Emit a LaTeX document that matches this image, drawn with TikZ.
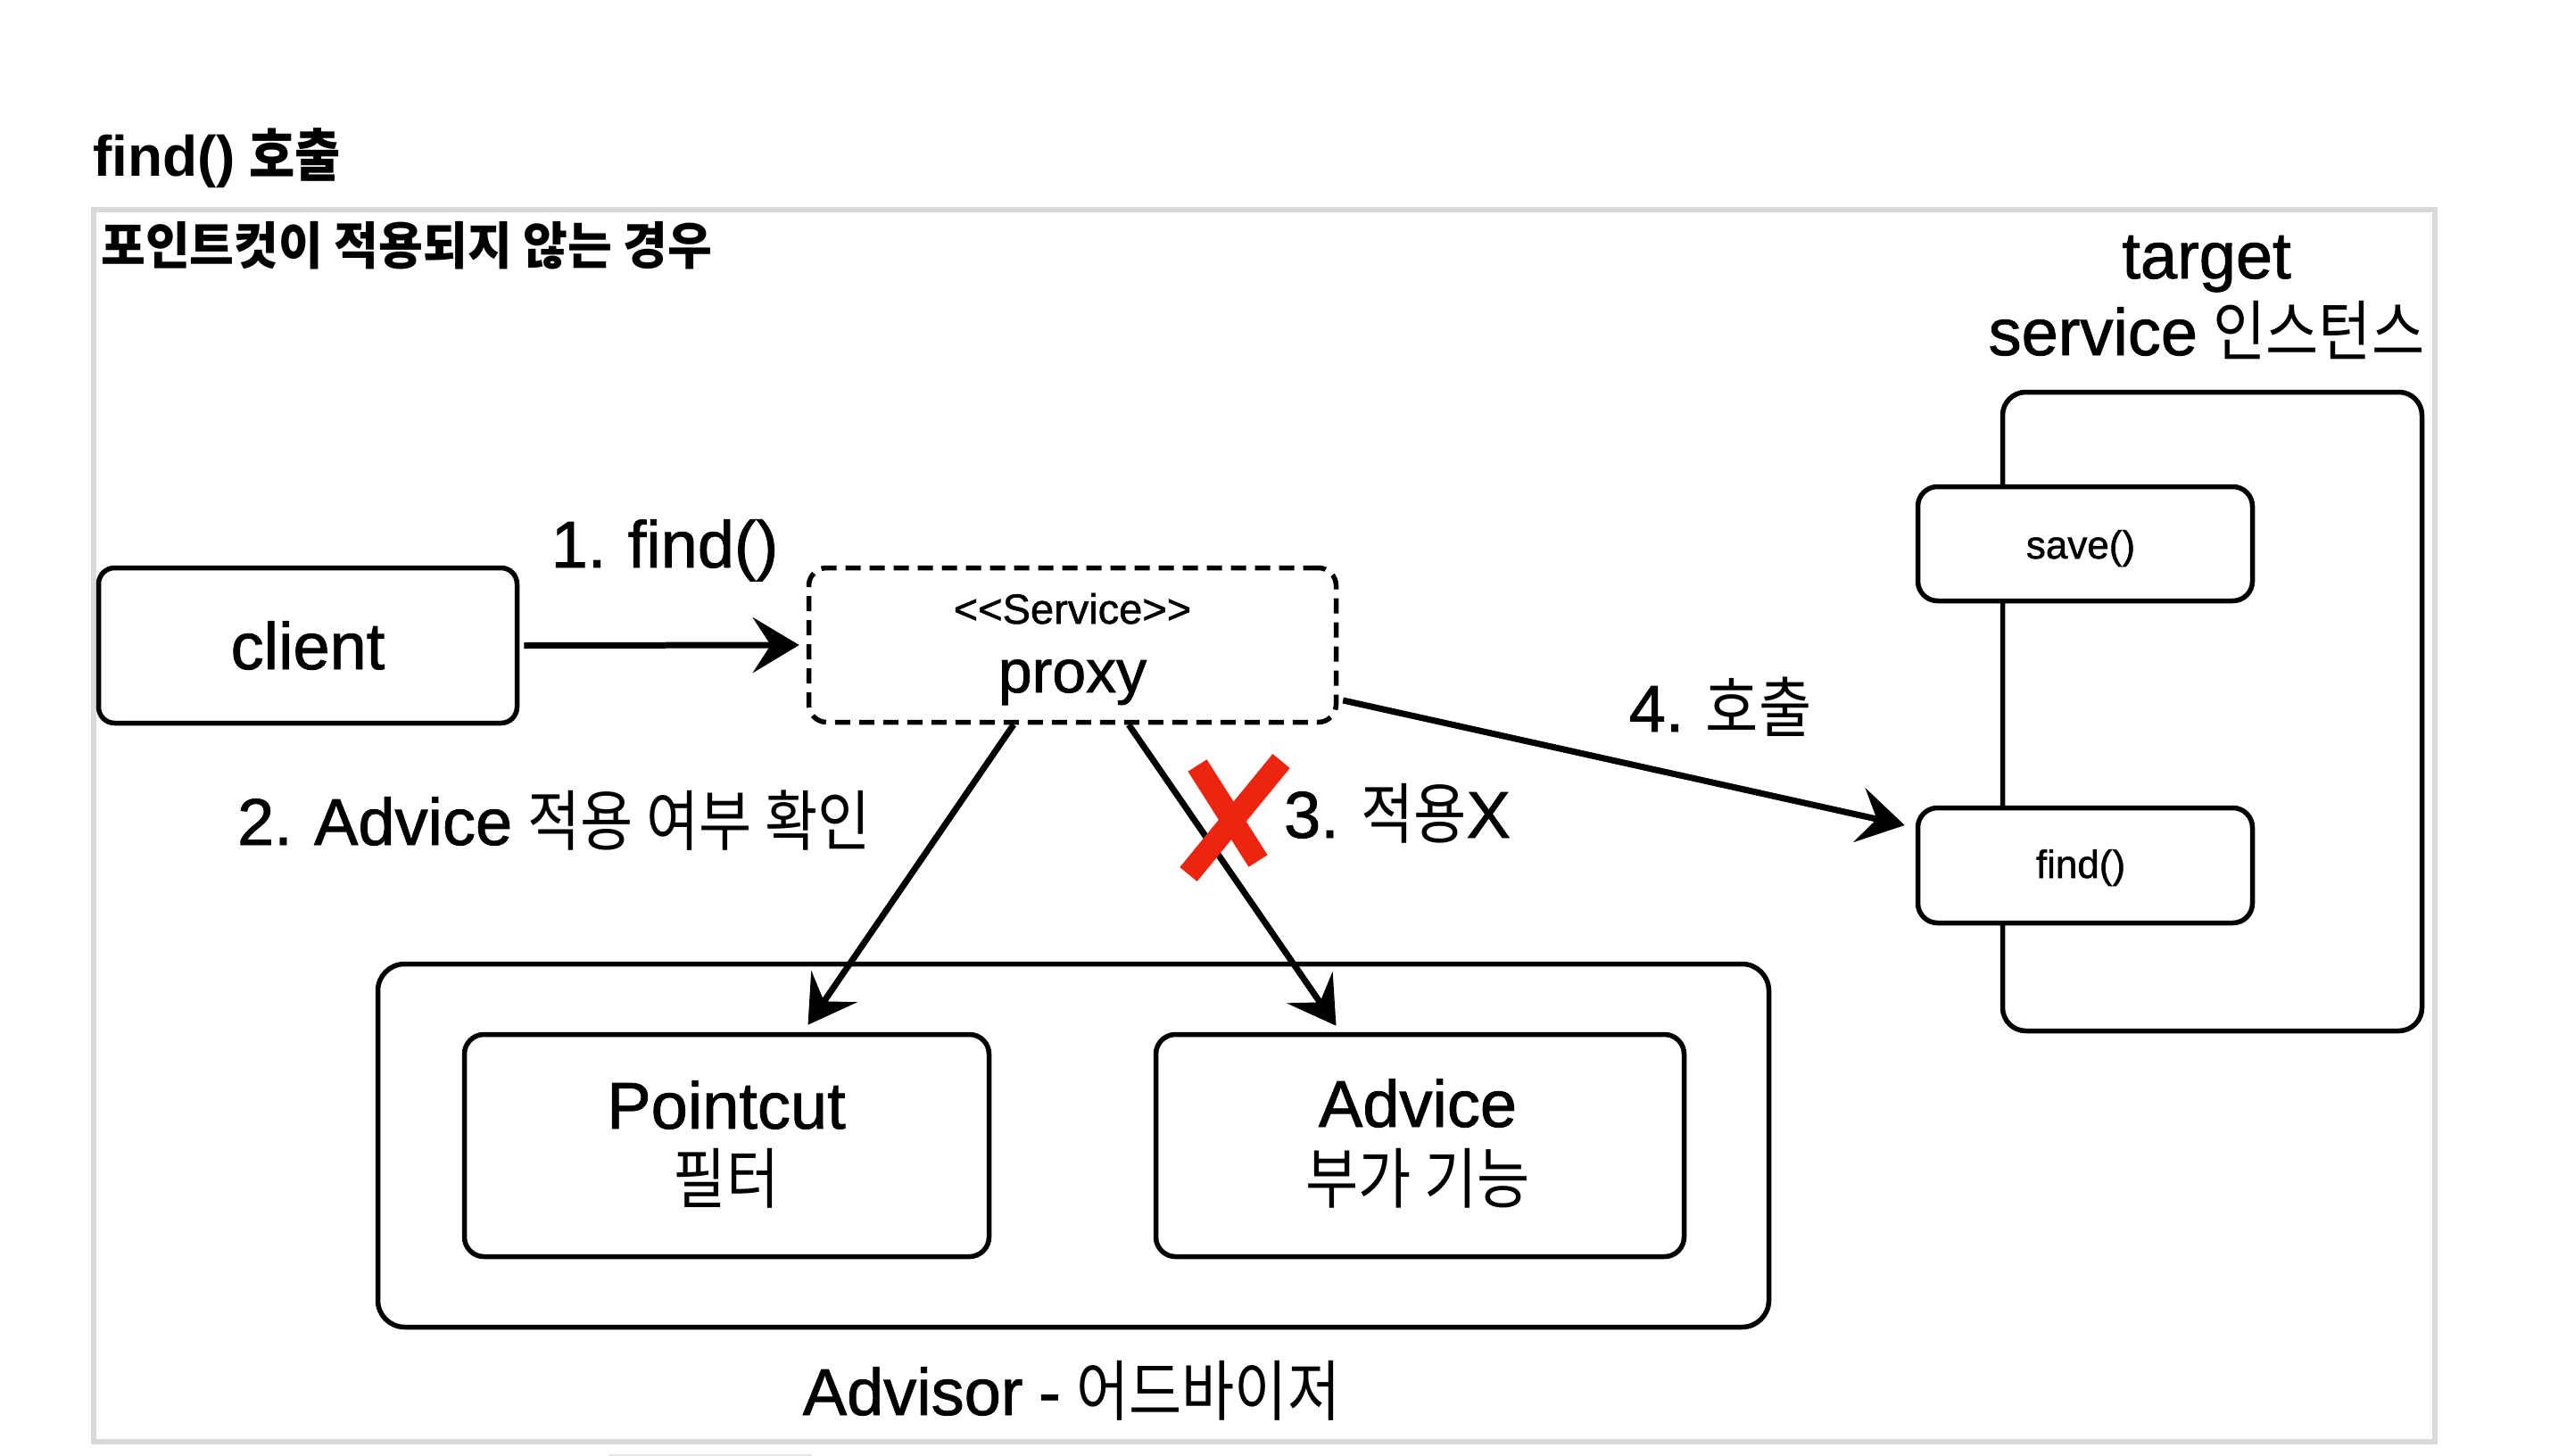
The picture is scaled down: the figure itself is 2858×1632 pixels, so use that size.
\documentclass[tikz,border=0pt]{standalone}
\usepackage{fontspec}
\setmainfont[FakeBold=1.2,WordSpace=0.85,BoldFeatures={FakeBold=0}]{Liberation Sans}
\newfontfamily\kr[FakeStretch=0.87]{Noto Sans CJK KR}
\newfontfamily\krs[FakeStretch=0.95]{Noto Sans CJK KR}
\usetikzlibrary{arrows.meta}
\definecolor{framegray}{HTML}{D9D9D9}
\definecolor{xred}{HTML}{EC2410}
\tikzset{
  box/.style={draw, line width=5.5pt, rounded corners=22pt, inner sep=0pt},
  proxybox/.style={draw, line width=5.5pt, rounded corners=20pt, dash pattern=on 17pt off 10pt, inner sep=0pt},
  conn/.style={line width=7pt, -{Stealth[length=52pt,width=62pt,inset=20pt]}},
  big/.style={font=\fontsize{74}{80}\selectfont, inner sep=0pt, anchor=base},
  small/.style={font=\fontsize{44}{50}\selectfont, inner sep=0pt, anchor=base},
  xmark/.style={draw=xred, line width=25pt}
}
\begin{document}
\begin{tikzpicture}[x=1pt,y=-1pt]
\useasboundingbox (0,0) rectangle (2858,1632);
% frame
\draw[framegray, line width=6pt] (105,234.5) rectangle (2729,1616);
\draw[framegray!70, line width=2pt] (682,1631) -- (910,1631);
% titles
\node[inner sep=0pt, anchor=base west, font=\fontsize{64}{70}\selectfont\bfseries] (title) at (104,197) {find() {\kr 호출}};
\node[inner sep=0pt, anchor=base west, font=\fontsize{57}{62}\selectfont\bfseries] (subtitle) at (113,296) {\krs 포인트컷이 적용되지 않는 경우};
% boxes
\node[box, rounded corners=18pt, minimum width=469pt, minimum height=174pt] (client) at (345,723.5) {};
\node[big] (clienttxt) at (345,750) {client};
\node[proxybox, minimum width=591pt, minimum height=173pt] (proxy) at (1202,723) {};
\node[inner sep=0pt, anchor=base, font=\fontsize{47}{52}\selectfont] (stereo) at (1202,699) {<{}<Service>{}>};
\node[inner sep=0pt, anchor=base, font=\fontsize{68}{74}\selectfont] (proxytxt) at (1202,776) {proxy};
\node[box, rounded corners=26pt, minimum width=470pt, minimum height=716pt] (target) at (2479.5,797.5) {};
\node[box, fill=white, minimum width=375pt, minimum height=128pt] (save) at (2337,609.5) {};
\node[small] (savetxt) at (2332,626) {save()};
\node[box, fill=white, minimum width=375pt, minimum height=129pt] (find) at (2337,970) {};
\node[small] (findtxt) at (2332,984) {find()};
\node[big] (targettxt) at (2473,312) {target};
\node[big] (servicetxt) at (2473,398) {service {\kr 인스턴스}};
\node[box, rounded corners=30pt, minimum width=1559pt, minimum height=407pt] (advisor) at (1203,1284) {};
\node[box, minimum width=588pt, minimum height=249pt] (pointcut) at (814.5,1284) {};
\node[big] (pointcuttxt) at (814,1265) {Pointcut};
\node[big] (pointcutkr) at (814,1348) {\kr 필터};
\node[box, minimum width=592pt, minimum height=249pt] (advice) at (1591.5,1284) {};
\node[big] (advicetxt) at (1589,1263) {Advice};
\node[big] (advicekr) at (1589,1348) {\kr 부가 기능};
\node[big] (advisortxt) at (1201,1586) {Advisor - {\kr 어드바이저}};
% labels
\node[big] (l1) at (745,636) {1. find()};
\node[big] (l2) at (621,947) {2. Advice {\kr 적용 여부 확인}};
\node[big] (l3) at (1566,939) {3. {\kr 적용}X};
\node[big] (l4) at (1928,820) {4. {\kr 호출}};
% connectors
\draw[conn] ([xshift=5pt]client.east) -- ([xshift=-8pt]proxy.west);
\draw[conn] ([xshift=-66pt]proxy.south) -- ([xshift=91pt,yshift=8pt]pointcut.north);
\draw[conn] ([xshift=63pt]proxy.south) -- ([xshift=-94pt,yshift=7pt]advice.north);
\draw[conn] ([xshift=5pt,yshift=-62pt]proxy.east) -- ([xshift=-12pt,yshift=45pt]find.west);
% red X
\draw[xmark] (1342,858) -- (1410,965);
\draw[xmark] (1436,853) -- (1332,980);
\end{tikzpicture}
\end{document}
